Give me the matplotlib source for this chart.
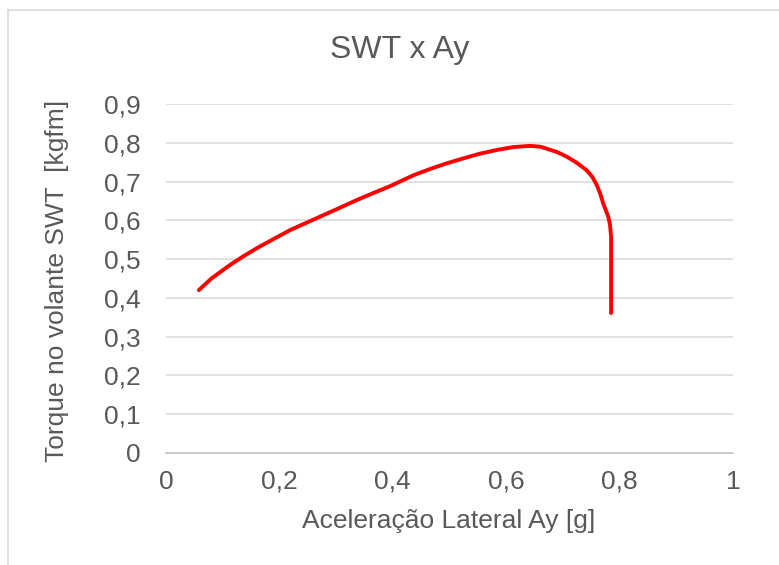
import matplotlib
matplotlib.use("Agg")
import matplotlib.pyplot as plt
from matplotlib.lines import Line2D

plt.rcParams['font.family'] = ['Liberation Sans', 'DejaVu Sans']

# Lateral acceleration [g] and steering-wheel torque [kgfm]
ay = [0.058, 0.080, 0.113, 0.135, 0.160, 0.190, 0.219, 0.248, 0.277, 0.306,
      0.336, 0.365, 0.395, 0.436, 0.465, 0.495, 0.525, 0.554, 0.585, 0.613,
      0.642, 0.660, 0.671, 0.690, 0.707, 0.725, 0.742, 0.752, 0.760, 0.766,
      0.771, 0.776, 0.780, 0.783, 0.785, 0.785, 0.785]
swt = [0.420, 0.450, 0.485, 0.506, 0.528, 0.552, 0.575, 0.594, 0.613, 0.632,
       0.652, 0.670, 0.688, 0.716, 0.732, 0.747, 0.760, 0.772, 0.782, 0.789,
       0.792, 0.790, 0.785, 0.776, 0.764, 0.748, 0.729, 0.712, 0.690, 0.668,
       0.644, 0.625, 0.609, 0.590, 0.557, 0.450, 0.361]

x_ticks = [0, 0.2, 0.4, 0.6, 0.8, 1]
x_labels = ["0", "0,2", "0,4", "0,6", "0,8", "1"]
y_ticks = [0, 0.1, 0.2, 0.3, 0.4, 0.5, 0.6, 0.7, 0.8, 0.9]
y_labels = ["0", "0,1", "0,2", "0,3", "0,4", "0,5", "0,6", "0,7", "0,8", "0,9"]

W, H = 779, 565
fig = plt.figure(figsize=(W / 100, H / 100), dpi=100)
ax = fig.add_axes([166 / W, 1 - 453 / H, (733 - 166) / W, (453 - 104) / H])

text_color = "#595959"
ax.plot(ay, swt, color="#ff0000", lw=2.8, solid_capstyle="round",
        solid_joinstyle="round", zorder=3)

ax.set_xlim(0, 1)
ax.set_ylim(0, 0.9)
ax.set_xticks(x_ticks)
ax.set_xticklabels(x_labels)
ax.set_yticks(y_ticks)
ax.set_yticklabels(y_labels)
ax.tick_params(axis="both", length=0, labelsize=19, colors=text_color)
ax.tick_params(axis="x", pad=12)
ax.tick_params(axis="y", pad=18)

ax.grid(axis="y", color="#d9d9d9", lw=1.1, zorder=0)
for s in ["top", "right", "left"]:
    ax.spines[s].set_visible(False)
ax.spines["bottom"].set_color("#bfbfbf")
ax.spines["bottom"].set_linewidth(1.1)

fig.text(449 / W, 1 - 521 / H, "Aceleração Lateral Ay [g]", fontsize=19,
         color=text_color, ha="center", va="center")
fig.text(57 / W, 1 - 281 / H, "Torque no volante SWT  [kgfm]", fontsize=19,
         color=text_color, ha="center", va="center", rotation=90)
fig.text(400 / W, 1 - 50 / H, "SWT x Ay", fontsize=23, color=text_color,
         ha="center", va="center")

# chart-area frame
fig.add_artist(Line2D([8 / W, 8 / W], [0, 1 - 10 / H], transform=fig.transFigure,
                      color="#d9d9d9", lw=1.2))
fig.add_artist(Line2D([8 / W, 1], [1 - 10 / H, 1 - 10 / H],
                      transform=fig.transFigure, color="#d9d9d9", lw=1.2))

fig.savefig("out.png", dpi=100)
